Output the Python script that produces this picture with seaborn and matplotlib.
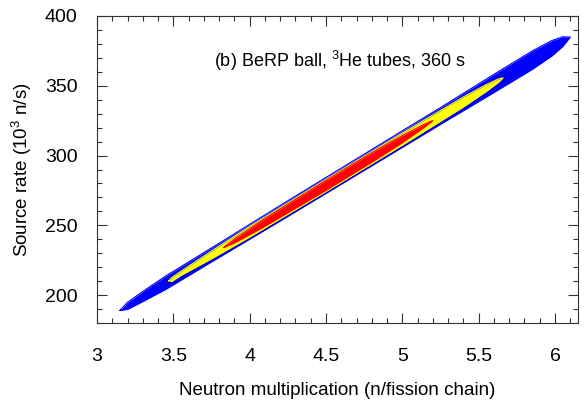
import numpy as np
import pandas as pd
import matplotlib
matplotlib.use("Agg")
import matplotlib.pyplot as plt
import seaborn as sns

# Confidence regions: x (multiplication) with lower/upper source rate
blue_x = [3.15, 3.20, 3.30, 3.45, 3.75, 4.25, 4.75, 5.25, 5.60, 5.85, 5.98, 6.05, 6.10]
blue_lo = [189.0, 189.8, 195.4, 204.1, 223.8, 256.4, 289.4, 322.4, 345.2, 361.7, 371.4, 378.1, 384.9]
blue_hi = [189.0, 194.8, 202.6, 213.7, 233.8, 267.6, 301.0, 334.4, 358.2, 374.9, 382.4, 385.1, 384.9]

yellow_x = [3.47, 3.49, 3.55, 3.75, 4.00, 4.50, 5.00, 5.40, 5.55, 5.63, 5.66]
yellow_lo = [210.2, 209.8, 214.1, 226.0, 241.6, 274.3, 307.5, 334.8, 345.9, 352.5, 355.7]
yellow_hi = [210.2, 212.6, 217.1, 231.6, 249.2, 282.9, 316.1, 342.0, 350.9, 354.9, 355.7]

red_x = [3.83, 3.90, 4.10, 4.50, 4.80, 5.00, 5.15, 5.20]
red_lo = [234.2, 237.4, 249.3, 275.0, 295.2, 309.3, 320.8, 325.1]
red_hi = [234.2, 240.2, 254.9, 282.2, 302.0, 314.3, 322.8, 325.1]

x_ticks = [3, 3.5, 4, 4.5, 5, 5.5, 6]
y_ticks = [200, 250, 300, 350, 400]

sns.set_style("ticks")
plt.rcParams['font.family'] = ['Liberation Sans', 'DejaVu Sans']
plt.rcParams['mathtext.fontset'] = 'custom'
plt.rcParams['mathtext.rm'] = 'Liberation Sans'
plt.rcParams['mathtext.default'] = 'regular'
plt.rcParams['text.color'] = 'black'
plt.rcParams['axes.labelcolor'] = 'black'
plt.rcParams['xtick.labelcolor'] = 'black'
plt.rcParams['ytick.labelcolor'] = 'black'

fig = plt.figure(figsize=(5.85, 4.03), dpi=100)
ax = fig.add_axes([0.1658, 0.1985, 0.822, 0.7618])

regions = [
    (blue_x, blue_lo, blue_hi, '#0000ff'),
    (yellow_x, yellow_lo, yellow_hi, '#ffff00'),
    (red_x, red_lo, red_hi, '#ff0000'),
]
for xs, lo, hi, col in regions:
    ax.fill_between(xs, lo, hi, color=col, linewidth=0)
    edge = pd.DataFrame({'x': xs + xs[::-1], 'y': lo + hi[::-1]})
    sns.lineplot(data=edge, x='x', y='y', sort=False, color=col,
                 linewidth=0.8, ax=ax, estimator=None)

ax.set_xlim(3, 6.15)
ax.set_ylim(180, 400)
ax.set_xticks(x_ticks)
ax.set_xticklabels([f"{t:g}" for t in x_ticks])
ax.set_yticks(y_ticks)
ax.set_xticks(np.arange(3, 6.16, 0.1), minor=True)
ax.set_yticks(np.arange(180, 401, 10), minor=True)

ax.tick_params(which='both', direction='in', top=True, right=True, width=0.8, color='#333333')
ax.tick_params(which='major', length=7, labelsize=14)
ax.tick_params(which='minor', length=3.5)
ax.tick_params(axis='x', which='major', pad=18)
ax.tick_params(axis='y', which='major', pad=14)
for s in ax.spines.values():
    s.set_linewidth(0.8)
    s.set_color('#333333')

ax.set_xlabel("Neutron multiplication (n/fission chain)", fontsize=13.5, labelpad=12)
ax.set_ylabel("Source rate (10$^3$ n/s)", fontsize=13.5, labelpad=8)

ax.text(4.59, 368, "(b) BeRP ball, $^{3}$He tubes, 360 s", fontsize=13, ha='center', va='center')

fig.savefig("out.png", dpi=100)
